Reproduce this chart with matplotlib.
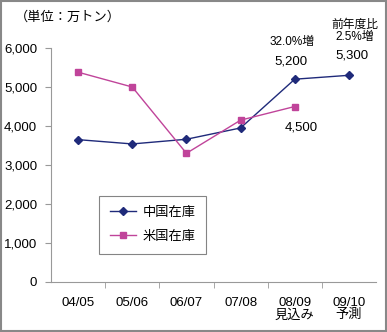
import matplotlib
matplotlib.use('Agg')
from matplotlib import pyplot as plt
from matplotlib.patches import Rectangle

plt.rcParams['font.family'] = ['Liberation Sans', 'Noto Sans CJK JP']

# data
categories = ['04/05', '05/06', '06/07', '07/08', '08/09\n見込み', '09/10\n予測']
china = [3650, 3540, 3660, 3950, 5200, 5300]
usa = [5380, 5000, 3300, 4150, 4500]
yticks = [0, 1000, 2000, 3000, 4000, 5000, 6000]

fig = plt.figure(figsize=(3.87, 3.32), dpi=100)
ax = fig.add_axes([51/387, 1-282/332, 325/387, 234/332])

x = list(range(len(categories)))
ax.plot(x, china, color='#1f2a7a', marker='D', markersize=4, lw=1, label='中国在庫')
ax.plot(x[:len(usa)], usa, color='#c0449a', marker='s', markersize=5, lw=1, label='米国在庫')

ax.set_xlim(-0.5, len(categories) - 0.5)
ax.set_ylim(0, 6000)
ax.set_yticks(yticks)
ax.set_yticklabels(['{:,}'.format(v) for v in yticks], fontsize=9.5)
ax.set_xticks(x)
ax.set_xticklabels(categories, fontsize=9.5, linespacing=1.0)
ax.set_xticks([i + 0.5 for i in x[:-1]], minor=True)
ax.tick_params(axis='x', which='major', length=0, pad=11)
ax.tick_params(axis='x', which='minor', length=4, color='#999999', direction='out')
ax.tick_params(axis='y', length=4, color='#999999', direction='out', pad=6)
for s in ['top', 'right']:
    ax.spines[s].set_visible(False)
for s in ['left', 'bottom']:
    ax.spines[s].set_color('#999999')

leg = ax.legend(loc='upper left', bbox_to_anchor=(0.148, 0.367), borderaxespad=0,
                fontsize=9.5, frameon=True, fancybox=False, edgecolor='#666666',
                handlelength=2.0, handletextpad=0.5, borderpad=0.8, labelspacing=0.9)
leg.get_frame().set_linewidth(0.8)

# annotations
fig.text(15/387, 1-17/332, '（単位：万トン）', fontsize=9.5, va='center', ha='left')
ax.annotate('32.0%増', (4, 5200), xytext=(-2, 27), textcoords='offset points',
            ha='center', va='center', fontsize=8.5)
ax.annotate('5,200', (4, 5200), xytext=(-3, 13), textcoords='offset points',
            ha='center', va='center', fontsize=9.5)
ax.annotate('4,500', (4, 4500), xytext=(5, -15), textcoords='offset points',
            ha='center', va='center', fontsize=9.5)
ax.annotate('前年度比\n2.5%増', (5, 5300), xytext=(4, 32), textcoords='offset points',
            ha='center', va='center', fontsize=8.5, linespacing=1.05)
ax.annotate('5,300', (5, 5300), xytext=(2, 14), textcoords='offset points',
            ha='center', va='center', fontsize=9.5)

fig.patches.append(Rectangle((0.002, 0.002), 0.995, 0.995, transform=fig.transFigure,
                             fill=False, edgecolor='#888888', lw=1.5))

fig.savefig('out.png', dpi=100)
